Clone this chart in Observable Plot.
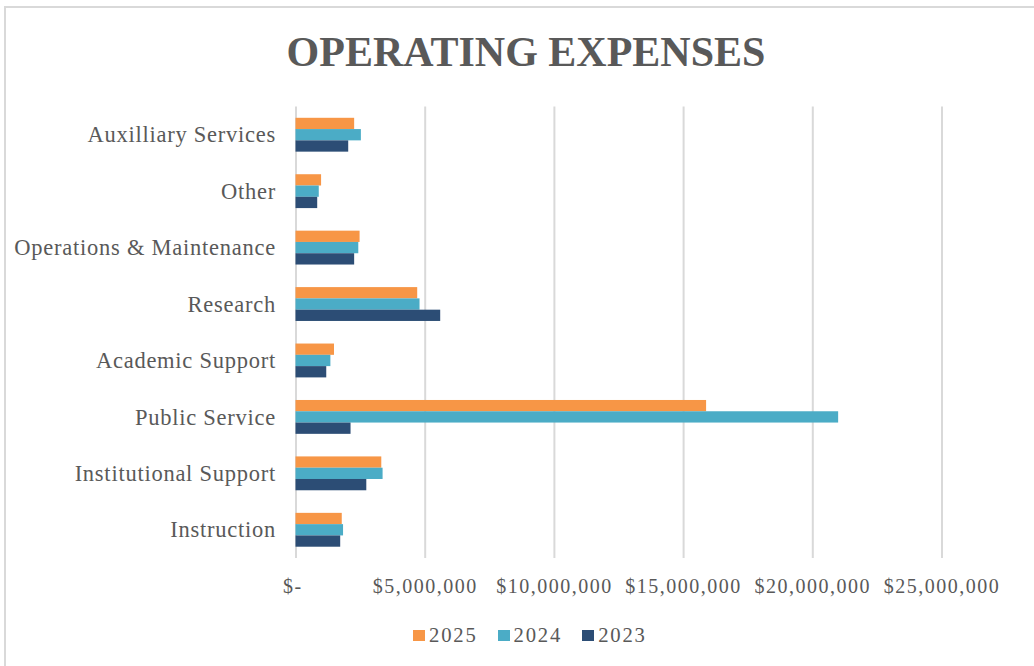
<!DOCTYPE html>
<html>
<head>
<meta charset="utf-8">
<script src="https://cdn.jsdelivr.net/npm/d3@7"></script>
<script src="https://cdn.jsdelivr.net/npm/@observablehq/plot@0.6"></script>
<style>
  html, body { margin: 0; padding: 0; background: #fff; overflow: hidden; }
  #wrap { position: relative; width: 1034px; height: 666px; overflow: hidden;
          font-family: "Liberation Serif", "Times New Roman", serif; color: #595959; }
  #frame { position: absolute; left: 4px; top: 6px; width: 1100px; height: 700px;
           border: 2px solid #d9d9d9; box-sizing: border-box; }
  #title { position: absolute; left: 0; width: 1052px; top: 31px; text-align: center;
           font-size: 42px; font-weight: bold; line-height: 42px; white-space: nowrap; }
  #chart { position: absolute; left: 0; top: 0; }
  #chart svg g[aria-label="x-axis tick label"] text { letter-spacing: 1.5px; }
  #chart svg g[aria-label="y-axis tick label"] text { letter-spacing: 0.75px; }
  #legend { position: absolute; left: 413px; top: 625px; font-size: 20.7px; line-height: 21px;
            white-space: nowrap; letter-spacing: 1.8px; }
  #legend .item { display: inline-block; margin-right: 20px; }
  #legend .sw { display: inline-block; width: 12px; height: 11px; margin-right: 4px; vertical-align: 1px; }
</style>
</head>
<body>
<div id="wrap">
  <div id="frame"></div>
  <div id="title">OPERATING EXPENSES</div>
  <div id="chart"></div>
  <div id="legend"></div>
</div>
<script>
const categories = ["Auxilliary Services", "Other", "Operations & Maintenance", "Research",
                    "Academic Support", "Public Service", "Institutional Support", "Instruction"];
const years = ["2025", "2024", "2023"];
const values2025 = [2270000, 990000, 2480000, 4710000, 1490000, 15890000, 3320000, 1790000];
const values2024 = [2530000, 900000, 2430000, 4800000, 1350000, 21000000, 3370000, 1840000];
const values2023 = [2040000, 840000, 2270000, 5600000, 1190000, 2130000, 2740000, 1730000];
const colors = ["#f79646", "#4bacc6", "#2c4d75"];
const xTicks = [0, 5000000, 10000000, 15000000, 20000000, 25000000];

const seriesByYear = {"2025": values2025, "2024": values2024, "2023": values2023};
const rows = [];
categories.forEach((c, i) => years.forEach(y => rows.push({category: c, year: y, value: seriesByYear[y][i], key: c + "|" + y})));

// ordinal slots: bars per group plus spacer slots between groups
const slots = ["pad-top"];
categories.forEach((c, i) => {
  years.forEach(y => slots.push(c + "|" + y));
  if (i < categories.length - 1) slots.push("gap-a" + i, "gap-b" + i);
});
slots.push("pad-bottom");
const labelKeys = categories.map(c => c + "|" + years[1]);

const fmtX = d => d === 0 ? "$-\u00a0" : "$" + d3.format(",")(d);

const chart = Plot.plot({
  width: 1034,
  height: 600,
  marginTop: 106.5,
  marginBottom: 42,
  marginLeft: 295.5,
  marginRight: 92.5,
  style: {fontFamily: "'Liberation Serif', 'Times New Roman', serif", color: "#595959", background: "transparent", overflow: "visible"},
  x: {domain: [0, 25000000], label: null},
  y: {type: "band", domain: slots, padding: 0, round: false, label: null},
  color: {domain: years, range: colors},
  marks: [
    Plot.gridX(xTicks, {stroke: "#d9d9d9", strokeWidth: 2, strokeOpacity: 1}),
    Plot.barX(rows, {x: "value", y: "key", fill: "year"}),
    Plot.axisX(xTicks, {tickSize: 0, tickPadding: 20, tickFormat: fmtX, fontSize: 20, label: null}),
    Plot.axisY(labelKeys, {tickSize: 0, tickPadding: 20, tickFormat: k => k.split("|")[0], fontSize: 22.5, label: null})
  ]
});
document.getElementById("chart").appendChild(chart);

const legend = document.getElementById("legend");
years.forEach((y, i) => {
  const item = document.createElement("span");
  item.className = "item";
  const sw = document.createElement("span");
  sw.className = "sw";
  sw.style.background = colors[i];
  item.appendChild(sw);
  item.appendChild(document.createTextNode(y));
  legend.appendChild(item);
});
</script>
</body>
</html>
